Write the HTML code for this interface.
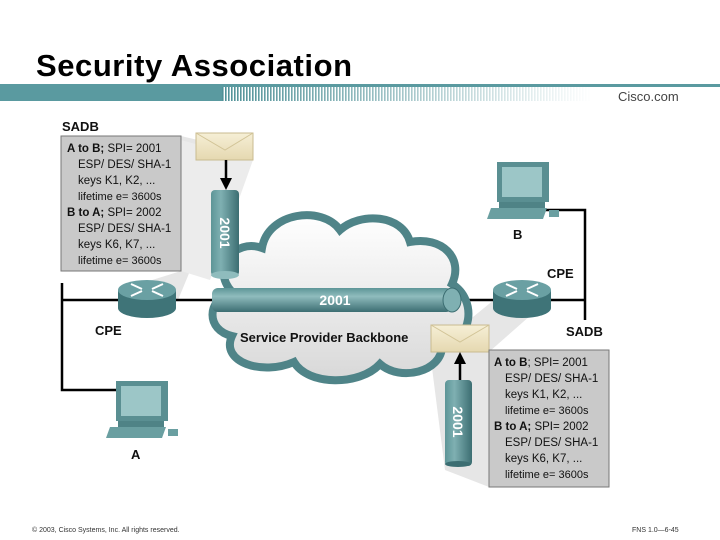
<!DOCTYPE html>
<html><head><meta charset="utf-8"><style>
html,body{margin:0;padding:0;background:#fff;}
svg{display:block;font-family:"Liberation Sans",sans-serif;}
</style></head><body>
<svg width="720" height="540" viewBox="0 0 720 540" xmlns="http://www.w3.org/2000/svg">
<defs>
<pattern id="str" width="3" height="10" patternUnits="userSpaceOnUse"><rect width="1.6" height="10" fill="#4f9197"/></pattern>
<linearGradient id="fade" x1="0" x2="1"><stop offset="0" stop-color="#fff" stop-opacity="0"/><stop offset="1" stop-color="#fff" stop-opacity="1"/></linearGradient>
<linearGradient id="tubeH" x1="0" y1="0" x2="0" y2="1"><stop offset="0" stop-color="#5d9597"/><stop offset="0.35" stop-color="#8fbcbd"/><stop offset="1" stop-color="#3c6e72"/></linearGradient>
<linearGradient id="tubeV" x1="0" y1="0" x2="1" y2="0"><stop offset="0" stop-color="#5d9597"/><stop offset="0.35" stop-color="#7fb0b2"/><stop offset="1" stop-color="#3c6e72"/></linearGradient>
<linearGradient id="cloudF" x1="0" y1="0" x2="0" y2="1"><stop offset="0" stop-color="#fff"/><stop offset="1" stop-color="#d8d8d8"/></linearGradient>
<linearGradient id="env" x1="0" y1="0" x2="0" y2="1"><stop offset="0" stop-color="#f6efd6"/><stop offset="1" stop-color="#e5d8b0"/></linearGradient>
</defs>

<text x="36" y="76" font-size="31" font-weight="bold" fill="#000" textLength="316">Security Association</text>
<rect x="0" y="84" width="720" height="3" fill="#5a9aa0"/>
<rect x="0" y="84" width="222" height="17" fill="#5a9aa0"/>
<rect x="222" y="87" width="370" height="14" fill="url(#str)"/>
<rect x="222" y="87" width="370" height="14" fill="url(#fade)"/>
<text x="618" y="101" font-size="13" fill="#444">Cisco.com</text>

<!-- shadows -->
<polygon points="181,136 181,271 120,290 178,300 240,150" fill="#e6e6e6"/>
<polygon points="181,140 253,160 210,280 181,271" fill="#ececec"/>
<polygon points="489,352 548,300 500,295 430,352 445,470 489,487" fill="#e6e6e6"/>

<!-- connector lines -->
<polyline points="62,283 62,390 118,390" fill="none" stroke="#000" stroke-width="2.5"/>
<line x1="62" y1="300" x2="215" y2="300" stroke="#000" stroke-width="2.5"/>
<polyline points="540,210 585,210 585,320" fill="none" stroke="#000" stroke-width="2.5"/>
<line x1="445" y1="300" x2="585" y2="300" stroke="#000" stroke-width="2.5"/>

<!-- cloud -->
<path d="M232,292 C210,268 235,238 262,248 C268,212 322,205 340,230 C360,212 402,214 410,242 C442,236 464,258 452,284 C478,300 472,342 442,346 C442,372 400,382 380,364 C360,386 308,386 294,362 C262,376 220,362 232,336 C206,330 206,300 232,292 Z" fill="url(#cloudF)" stroke="#4f8488" stroke-width="8"/>

<!-- horizontal tube -->
<rect x="212" y="288" width="240" height="24" rx="6" fill="url(#tubeH)"/>
<ellipse cx="452" cy="300" rx="9" ry="12" fill="#7fb0b2" stroke="#3c6e72"/>
<text x="335" y="305" font-size="14" font-weight="bold" fill="#fff" text-anchor="middle">2001</text>
<text x="240" y="342" font-size="13" font-weight="bold" fill="#111">Service Provider Backbone</text>

<!-- vertical tube left -->
<rect x="211" y="190" width="28" height="86" rx="4" fill="url(#tubeV)"/>
<ellipse cx="225" cy="275" rx="14" ry="4" fill="#8fbcbd"/>
<text transform="translate(220,233) rotate(90)" font-size="14" font-weight="bold" fill="#fff" text-anchor="middle">2001</text>
<!-- vertical tube right -->
<rect x="445" y="380" width="27" height="86" rx="4" fill="url(#tubeV)"/>
<ellipse cx="458" cy="464" rx="13" ry="3" fill="#3c6e72"/>
<text transform="translate(453,422) rotate(90)" font-size="14" font-weight="bold" fill="#fff" text-anchor="middle">2001</text>

<!-- envelopes & arrows -->
<rect x="196" y="133" width="57" height="27" fill="url(#env)" stroke="#c9bb90"/>
<polyline points="196,133 225,150 253,133" fill="none" stroke="#d2c497"/>
<line x1="226" y1="160" x2="226" y2="180" stroke="#000" stroke-width="2.5"/>
<polygon points="220,178 232,178 226,190" fill="#000"/>
<rect x="431" y="325" width="58" height="27" fill="url(#env)" stroke="#c9bb90"/>
<polyline points="431,325 460,342 489,325" fill="none" stroke="#d2c497"/>
<line x1="460" y1="380" x2="460" y2="362" stroke="#000" stroke-width="2.5"/>
<polygon points="454,364 466,364 460,352" fill="#000"/>

<!-- routers -->
<g>
<path d="M118,290 L118,308 A29,10 0 0 0 176,308 L176,290 Z" fill="#3f7478"/>
<ellipse cx="147" cy="290" rx="29" ry="10" fill="#6aa0a3"/>
<path d="M131,284 L142,289 M163,284 L152,289 M131,296 L142,291 M163,296 L152,291" stroke="#fff" stroke-width="2"/>
</g>
<g transform="translate(375,0)">
<path d="M118,290 L118,308 A29,10 0 0 0 176,308 L176,290 Z" fill="#3f7478"/>
<ellipse cx="147" cy="290" rx="29" ry="10" fill="#6aa0a3"/>
<path d="M131,284 L142,289 M163,284 L152,289 M131,296 L142,291 M163,296 L152,291" stroke="#fff" stroke-width="2"/>
</g>

<!-- PCs -->
<g transform="translate(116,381)">
<rect x="0" y="0" width="52" height="40" fill="#5a8f92"/>
<rect x="5" y="5" width="40" height="30" fill="#9cc6c7"/>
<rect x="2" y="40" width="46" height="6" fill="#4f8386"/>
<polygon points="-6,46 50,46 46,57 -10,57" fill="#6a9fa1"/>
<rect x="52" y="48" width="10" height="7" fill="#6a9fa1"/>
</g>
<g transform="translate(497,162)">
<rect x="0" y="0" width="52" height="40" fill="#5a8f92"/>
<rect x="5" y="5" width="40" height="30" fill="#9cc6c7"/>
<rect x="2" y="40" width="46" height="6" fill="#4f8386"/>
<polygon points="-6,46 50,46 46,57 -10,57" fill="#6a9fa1"/>
<rect x="52" y="48" width="10" height="7" fill="#6a9fa1"/>
</g>

<!-- labels -->
<g font-size="13" font-weight="bold" fill="#111">
<text x="62" y="131">SADB</text>
<text x="95" y="335">CPE</text>
<text x="131" y="459">A</text>
<text x="513" y="239">B</text>
<text x="547" y="278">CPE</text>
<text x="566" y="336">SADB</text>
</g>

<!-- SADB boxes -->
<g font-size="11.5" fill="#111">
<rect x="61" y="136" width="120" height="135" fill="#c9c9c9" stroke="#777"/>
<text x="67" y="152"><tspan font-weight="bold">A to B;</tspan> SPI= 2001</text>
<text x="78" y="168">ESP/ DES/ SHA-1</text>
<text x="78" y="184">keys K1, K2, ...</text>
<text x="78" y="200" font-size="11">lifetime e= 3600s</text>
<text x="67" y="216"><tspan font-weight="bold">B to A;</tspan> SPI= 2002</text>
<text x="78" y="232">ESP/ DES/ SHA-1</text>
<text x="78" y="248">keys K6, K7, ...</text>
<text x="78" y="264" font-size="11">lifetime e= 3600s</text>

<rect x="489" y="350" width="120" height="137" fill="#c9c9c9" stroke="#777"/>
<text x="494" y="366"><tspan font-weight="bold">A to B</tspan>; SPI= 2001</text>
<text x="505" y="382">ESP/ DES/ SHA-1</text>
<text x="505" y="398">keys K1, K2, ...</text>
<text x="505" y="414" font-size="11">lifetime e= 3600s</text>
<text x="494" y="430"><tspan font-weight="bold">B to A;</tspan> SPI= 2002</text>
<text x="505" y="446">ESP/ DES/ SHA-1</text>
<text x="505" y="462">keys K6, K7, ...</text>
<text x="505" y="478" font-size="11">lifetime e= 3600s</text>
</g>

<text x="32" y="532" font-size="7" fill="#333">© 2003, Cisco Systems, Inc. All rights reserved.</text>
<text x="632" y="532" font-size="7" fill="#333">FNS 1.0—6-45</text>
</svg>
</body></html>
